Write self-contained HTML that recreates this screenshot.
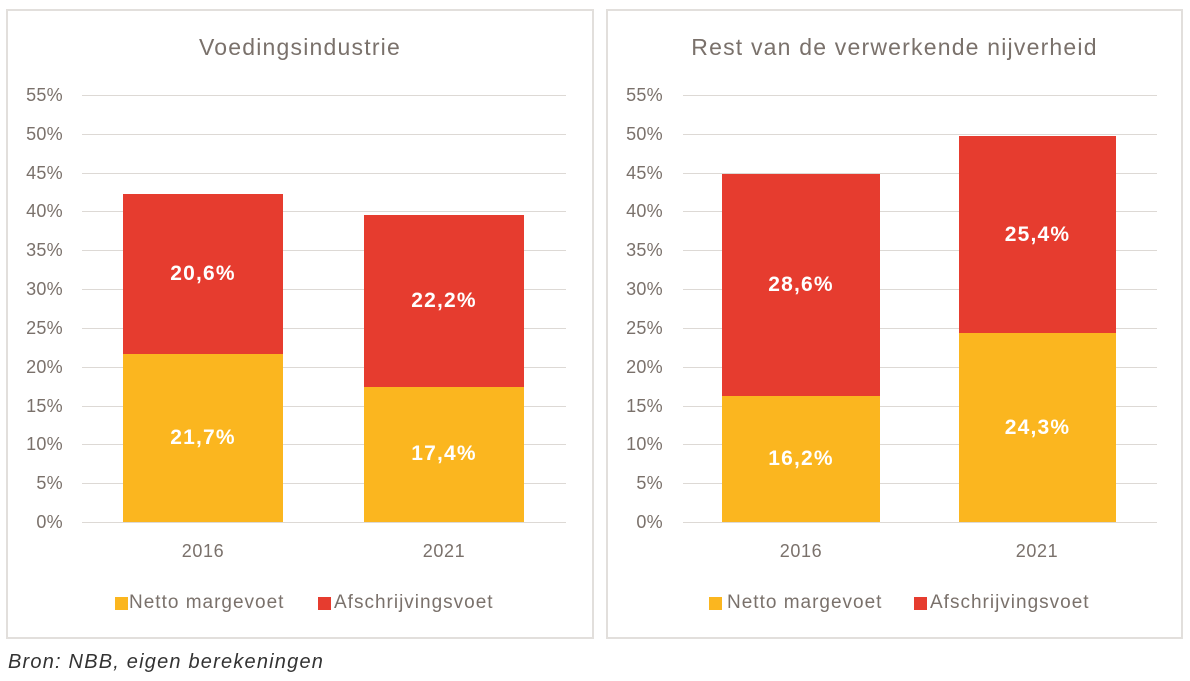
<!DOCTYPE html><html><head><meta charset="utf-8"><style>
body{margin:0;width:1190px;height:681px;background:#fff;font-family:"Liberation Sans",sans-serif;position:relative;overflow:hidden;color:#7a716b}
.p{position:absolute;border:2px solid #e2dfdc;box-sizing:border-box}
.a{position:absolute}
.g{position:absolute;height:1px;background:#ddd9d5}
.t{position:absolute;font-size:18px;text-align:right;width:50px;line-height:20px;letter-spacing:0.3px}
.b{position:absolute}
.v{position:absolute;color:#fff;font-weight:bold;font-size:21px;text-align:center;line-height:24px;letter-spacing:1.2px}
.ttl{position:absolute;font-size:23px;text-align:center;line-height:28px;letter-spacing:1.2px}
.yr{position:absolute;font-size:18px;width:100px;text-align:center;line-height:22px;letter-spacing:0.6px}
.lg{position:absolute;font-size:19px;line-height:22px;white-space:nowrap;letter-spacing:1px}
.sq{position:absolute;width:13px;height:13px}
</style></head><body>
<div class="p" style="left:6px;top:9px;width:588px;height:630px"></div>
<div class="p" style="left:606px;top:9px;width:577px;height:630px"></div>
<div class="ttl" style="left:6px;top:33px;width:588px">Voedingsindustrie</div>
<div class="ttl" style="left:606px;top:33px;width:577px">Rest van de verwerkende nijverheid</div>
<div id="axes"></div>
<script>
var h='';
for(var i=0;i<=11;i++){var y=522-i*5*7.764;
h+='<div class="g" style="left:82px;width:484px;top:'+Math.round(y)+'px"></div>';
h+='<div class="g" style="left:683px;width:474px;top:'+Math.round(y)+'px"></div>';
h+='<div class="t" style="left:13px;top:'+Math.round(y-10)+'px">'+(i*5)+'%</div>';
h+='<div class="t" style="left:613px;top:'+Math.round(y-10)+'px">'+(i*5)+'%</div>';}
function bar(x,w,a,b,la,lb){var ha=a*7.764,hb=b*7.764;
h+='<div class="b" style="left:'+x+'px;width:'+w+'px;top:'+(522-ha)+'px;height:'+ha+'px;background:#fbb61f"></div>';
h+='<div class="b" style="left:'+x+'px;width:'+w+'px;top:'+(522-ha-hb)+'px;height:'+hb+'px;background:#e63c2f"></div>';
h+='<div class="v" style="left:'+x+'px;width:'+w+'px;top:'+(522-ha/2-12)+'px">'+la+'</div>';
h+='<div class="v" style="left:'+x+'px;width:'+w+'px;top:'+(522-ha-hb/2-12)+'px">'+lb+'</div>';}
bar(123,160,21.7,20.6,'21,7%','20,6%');
bar(364,160,17.4,22.2,'17,4%','22,2%');
bar(722,158,16.2,28.6,'16,2%','28,6%');
bar(959,157,24.3,25.4,'24,3%','25,4%');
document.getElementById('axes').innerHTML=h;
</script>
<div class="yr" style="left:153px;top:540px">2016</div>
<div class="yr" style="left:394px;top:540px">2021</div>
<div class="yr" style="left:751px;top:540px">2016</div>
<div class="yr" style="left:987px;top:540px">2021</div>
<div class="sq" style="left:115px;top:597px;background:#fbb61f"></div><div class="lg" style="left:129px;top:592px">Netto margevoet</div>
<div class="sq" style="left:318px;top:597px;background:#e63c2f"></div><div class="lg" style="left:334px;top:592px">Afschrijvingsvoet</div>
<div class="sq" style="left:709px;top:597px;background:#fbb61f"></div><div class="lg" style="left:727px;top:592px">Netto margevoet</div>
<div class="sq" style="left:914px;top:597px;background:#e63c2f"></div><div class="lg" style="left:930px;top:592px">Afschrijvingsvoet</div>
<div class="a" style="left:8px;top:651px;font-size:20px;font-style:italic;color:#333;line-height:22px;letter-spacing:1.2px">Bron: NBB, eigen berekeningen</div>
</body></html>
